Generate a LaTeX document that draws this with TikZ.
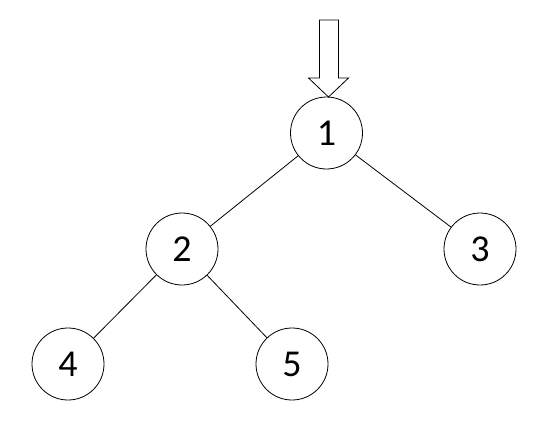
\documentclass[tikz,border=0pt]{standalone}
\usepackage{fontspec}
\setmainfont{Carlito}
\begin{document}
\begin{tikzpicture}[x=1pt,y=-1pt,
  vert/.style={circle,draw,line width=0.8pt,minimum size=72pt,inner sep=0pt,font=\fontsize{38}{40}\selectfont},
  edge/.style={line width=0.8pt}]
\useasboundingbox (0,0) rectangle (559,444);
\node[vert] (n1) at (326.5,133) {1};
\node[vert] (n2) at (182,249) {2};
\node[vert] (n3) at (480,249) {3};
\node[vert] (n4) at (68,364) {4};
\node[vert] (n5) at (292,364) {5};
\draw[edge] (n1) -- (n2);
\draw[edge] (n1) -- (n3);
\draw[edge] (n2) -- (n4);
\draw[edge] (n2) -- (n5);
\draw[edge] (319.5,20) -- (338.5,20) -- (338.5,78) -- (348.5,78) -- (328.5,97) -- (308.5,78) -- (319.5,78) -- cycle;
\end{tikzpicture}
\end{document}
